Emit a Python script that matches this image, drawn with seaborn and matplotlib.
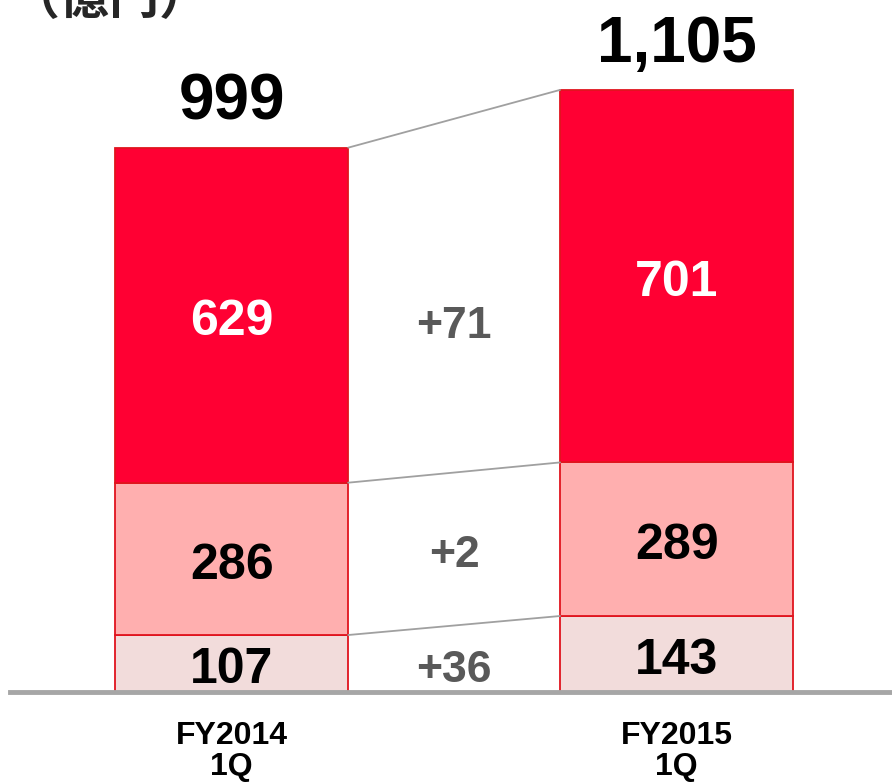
import numpy as np
import pandas as pd
import matplotlib
matplotlib.use("Agg")
import matplotlib.pyplot as plt
import seaborn as sns

# data
periods = ["FY2014\n1Q", "FY2015\n1Q"]
bottom_seg = [107, 143]
middle_seg = [286, 289]
top_seg = [629, 701]
totals = [999, 1105]
total_labels = ["999", "1,105"]
deltas = ["+36", "+2", "+71"]
unit_label = "（億円）"

sns.set_theme(style="white")
plt.rcParams['font.family'] = ['Liberation Sans', 'Noto Sans CJK JP', 'DejaVu Sans']

df = pd.DataFrame({"period": periods, "bottom": bottom_seg,
                   "middle": middle_seg, "top": top_seg, "total": totals})
# segments don't add up exactly to the reported totals, scale them to fit
k = df["total"] / (df["bottom"] + df["middle"] + df["top"])
df["h1"] = df["bottom"] * k
df["h2"] = df["middle"] * k
df["h3"] = df["top"] * k
df["cum1"] = df["h1"]
df["cum2"] = df["h1"] + df["h2"]

fig = plt.figure(figsize=(8.92, 7.82), dpi=100)
ax = fig.add_axes([10 / 892, 90 / 782, 882 / 892, 692 / 782])

bw = 0.524
edge = "#E0141E"
sns.barplot(data=df, x="period", y="h1", color="#F2DCDB", width=bw,
            edgecolor=edge, linewidth=1.3, saturation=1, ax=ax)
sns.barplot(data=df, x="period", y="h2", bottom=df["cum1"], color="#FFAFAF",
            width=bw, edgecolor=edge, linewidth=1.3, saturation=1, ax=ax)
sns.barplot(data=df, x="period", y="h3", bottom=df["cum2"], color="#FF0033",
            width=bw, edgecolor=edge, linewidth=1.3, saturation=1, ax=ax)

# connector lines between bars
for col in ["cum1", "cum2", "total"]:
    ax.plot([0 + bw / 2, 1 - bw / 2], df[col].values, color="#A0A0A0", lw=1.3, zorder=1)

# segment labels
def seg_label(x, y, s, color, size=36, dy=-5):
    ax.annotate(s, (x, y), xytext=(0, dy), textcoords="offset points", ha="center",
                va="center", fontsize=size, fontweight="bold", color=color)

for i in range(2):
    seg_label(i, df["h1"][i] / 2, str(df["bottom"][i]), "black")
    seg_label(i, df["cum1"][i] + df["h2"][i] / 2, str(df["middle"][i]), "black")
    seg_label(i, df["cum2"][i] + df["h3"][i] / 2, str(df["top"][i]), "white")
    ax.annotate(total_labels[i], (i, df["total"][i]), xytext=(0, 11), textcoords="offset points",
                ha="center", va="bottom", fontsize=46, fontweight="bold", color="black")

# delta labels between bars, at level of first bar's segments
mids = [df["h1"][0] / 2, df["cum1"][0] + df["h2"][0] / 2,
        df["cum2"][0] + df["h3"][0] / 2]
nudges = [-5, 2.5, -8]
for d, m, n in zip(deltas, mids, nudges):
    seg_label(0.5, m, d, "#595959", size=32, dy=n)

ax.set_xlim(-0.498, 1.484)
ax.set_ylim(0, 1270)
ax.set_xlabel("")
ax.set_ylabel("")
ax.set_yticks([])
for s in ["top", "right", "left"]:
    ax.spines[s].set_visible(False)
ax.spines["bottom"].set_color("#A6A6A6")
ax.spines["bottom"].set_linewidth(3.5)
ax.tick_params(axis="x", length=0, pad=21)
for lab in ax.get_xticklabels():
    lab.set_fontsize(23)
    lab.set_fontweight("bold")
    lab.set_color("black")
    lab.set_linespacing(1.05)

fig.text(10 / 892, 1 - 14 / 782, unit_label, ha="left", va="baseline", fontsize=36,
         fontweight="bold", family=['Noto Sans CJK JP', 'DejaVu Sans'])

fig.savefig("out.png", dpi=100)
